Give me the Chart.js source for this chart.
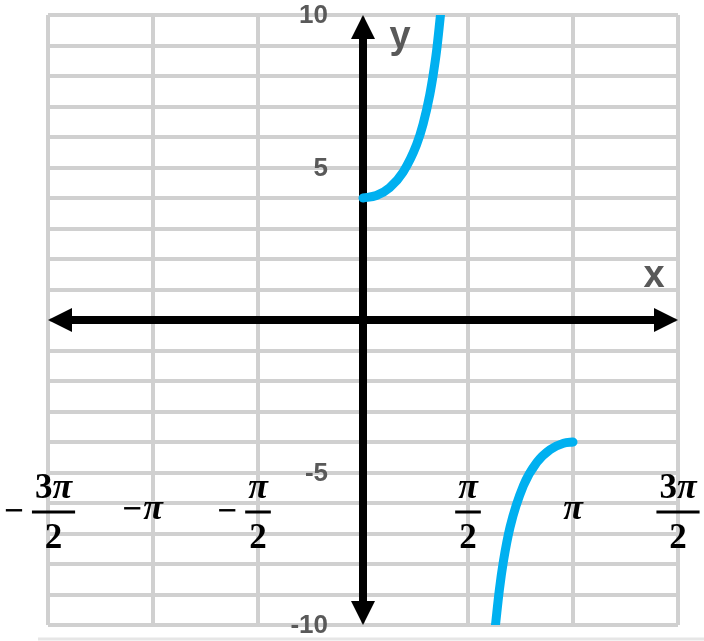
<!DOCTYPE html>
<html>
<head>
<meta charset="utf-8">
<script src="https://cdn.jsdelivr.net/npm/chart.js@4.4.0/dist/chart.umd.min.js"></script>
<style>
html, body { margin: 0; padding: 0; background: #fff; }
#wrap { width: 704px; height: 641px; }
</style>
</head>
<body>
<div id="wrap"><canvas id="secChart" width="704" height="641"></canvas></div>
<script>
// y = 4 sec x
var upperX = [0, 0.2, 0.4, 0.6, 0.8, 0.9, 1.0, 1.05, 1.1, 1.159];
var upperY = [4, 4.08, 4.34, 4.85, 5.74, 6.43, 7.40, 8.04, 8.81, 10];
var lowerX = [1.982, 2.04, 2.1, 2.2, 2.4, 2.6, 2.8, 3.0, 3.1416];
var lowerY = [-10, -8.85, -7.92, -6.79, -5.43, -4.67, -4.25, -4.04, -4];

var gridX = [-3 * Math.PI / 2, -Math.PI, -Math.PI / 2, 0, Math.PI / 2, Math.PI, 3 * Math.PI / 2];
var xTicks = [-3 * Math.PI / 2, -Math.PI, -Math.PI / 2, Math.PI / 2, Math.PI, 3 * Math.PI / 2];
var xTickLabels = ['−3π/2', '−π', '−π/2', 'π/2', 'π', '3π/2'];
var yTicks = [10, 5, -5, -10];
var yTickLabels = ['10', '5', '-5', '-10'];

function toPoints(xs, ys) {
    var pts = [];
    for (let i in xs) {
        pts.push({x: xs[i], y: ys[i]});
    }
    return pts;
}

var SERIF = '"Liberation Serif", "DejaVu Serif", serif';
var SANS = '"Liberation Sans", "DejaVu Sans", sans-serif';

function fontFor(ch) {
    return (ch === 'π' ? 'italic bold 36px ' : 'bold 35px ') + SERIF;
}

function runWidth(ctx, s) {
    var w = 0;
    for (let ch of s) {
        ctx.font = fontFor(ch);
        w += ctx.measureText(ch).width;
    }
    return w;
}

function drawRun(ctx, s, left, baseline) {
    var x = left;
    for (let ch of s) {
        ctx.font = fontFor(ch);
        ctx.fillText(ch, x, baseline);
        x += ctx.measureText(ch).width;
    }
}

function arrowHead(ctx, tipX, tipY, dx, dy) {
    // dx,dy: unit direction the arrow points to
    var len = 24, half = 12;
    var bx = tipX - dx * len, by = tipY - dy * len;
    ctx.beginPath();
    ctx.moveTo(tipX, tipY);
    ctx.lineTo(bx - dy * half, by + dx * half);
    ctx.lineTo(bx + dy * half, by - dx * half);
    ctx.closePath();
    ctx.fill();
}

var axesPlugin = {
    id: 'axesPlugin',
    beforeDatasetsDraw: function (chart) {
        var ctx = chart.ctx, a = chart.chartArea;
        var x0 = chart.scales.x.getPixelForValue(0);
        var y0 = chart.scales.y.getPixelForValue(0);
        ctx.save();
        ctx.strokeStyle = '#000';
        ctx.fillStyle = '#000';
        ctx.lineWidth = 8;
        ctx.beginPath();
        ctx.moveTo(a.left + 20, y0);
        ctx.lineTo(a.right - 20, y0);
        ctx.moveTo(x0, a.top + 20);
        ctx.lineTo(x0, a.bottom - 20);
        ctx.stroke();
        arrowHead(ctx, a.left, y0, -1, 0);
        arrowHead(ctx, a.right, y0, 1, 0);
        arrowHead(ctx, x0, a.top, 0, -1);
        arrowHead(ctx, x0, a.bottom, 0, 1);
        ctx.restore();
    },
    afterDraw: function (chart) {
        var ctx = chart.ctx, a = chart.chartArea;
        var xs = chart.scales.x, ys = chart.scales.y;
        var x0 = xs.getPixelForValue(0);
        ctx.save();

        // faint strip under the grid
        ctx.strokeStyle = '#e6e6e6';
        ctx.lineWidth = 3;
        ctx.beginPath();
        ctx.moveTo(a.left - 10, a.bottom + 14);
        ctx.lineTo(chart.width, a.bottom + 14);
        ctx.stroke();

        // y tick labels
        ctx.fillStyle = '#595959';
        ctx.font = 'bold 26px ' + SANS;
        ctx.textAlign = 'right';
        ctx.textBaseline = 'middle';
        for (let i in yTicks) {
            ctx.fillText(yTickLabels[i], x0 - 35, ys.getPixelForValue(yTicks[i]) + 1);
        }

        // axis names
        ctx.font = 'bold 38px ' + SANS;
        ctx.textAlign = 'center';
        ctx.textBaseline = 'alphabetic';
        ctx.fillText('y', x0 + 37, a.top + 33);
        ctx.fillText('x', a.right - 24, ys.getPixelForValue(0) - 33);

        // x tick labels
        ctx.fillStyle = '#000';
        ctx.textAlign = 'left';
        var barY = 512;
        for (let i in xTicks) {
            var lab = xTickLabels[i];
            var neg = lab.charAt(0) === '−';
            var body = neg ? lab.slice(1) : lab;
            var cx = xs.getPixelForValue(xTicks[i]);
            var parts = body.split('/');
            var bodyW, numW, denW;
            if (parts.length === 2) {
                numW = runWidth(ctx, parts[0]);
                denW = runWidth(ctx, parts[1]);
                bodyW = Math.max(numW, denW) + 6;
            } else {
                bodyW = runWidth(ctx, body);
            }
            ctx.font = fontFor('−');
            var minusW = ctx.measureText('−').width;
            var left = cx - bodyW / 2;
            var gap = parts.length === 2 ? 8 : 1;
            if (neg && left - gap - minusW < 4) {
                left = 4 + minusW + gap;
            }
            if (neg) {
                ctx.font = fontFor('−');
                ctx.fillText('−', left - gap - minusW, parts.length === 2 ? barY + 10 : barY + 8);
            }
            if (parts.length === 2) {
                drawRun(ctx, parts[0], left + (bodyW - numW) / 2, barY - 14);
                drawRun(ctx, parts[1], left + (bodyW - denW) / 2, barY + 36);
                ctx.fillRect(left, barY - 1.5, bodyW, 3);
            } else {
                drawRun(ctx, body, left, barY + 7);
            }
        }
        ctx.restore();
    }
};

var ctx = document.getElementById('secChart').getContext('2d');

var secChart = new Chart(ctx, {
    type: 'scatter',
    data: {
        datasets: [{
            data: toPoints(upperX, upperY)
        }, {
            data: toPoints(lowerX, lowerY)
        }]
    },
    options: {
        responsive: false,
        animation: false,
        devicePixelRatio: 1,
        layout: {
            padding: {left: 48, right: 26, top: 15, bottom: 16}
        },
        elements: {
            line: {
                borderColor: '#00b0f0',
                borderWidth: 9,
                borderCapStyle: 'round',
                cubicInterpolationMode: 'monotone'
            },
            point: { radius: 0, hoverRadius: 0 }
        },
        datasets: {
            scatter: { showLine: true, clip: 0 }
        },
        plugins: {
            legend: { display: false },
            tooltip: { enabled: false }
        },
        scales: {
            x: {
                type: 'linear',
                min: gridX[0],
                max: gridX[gridX.length - 1],
                afterBuildTicks: function (scale) {
                    scale.ticks = gridX.map(function (v) { return {value: v}; });
                },
                ticks: { display: false },
                border: { display: false },
                grid: { color: '#d0d0d0', lineWidth: 4, drawTicks: false }
            },
            y: {
                type: 'linear',
                min: -10,
                max: 10,
                ticks: { display: false, stepSize: 1 },
                border: { display: false },
                grid: { color: '#d0d0d0', lineWidth: 4, drawTicks: false }
            }
        }
    },
    plugins: [axesPlugin]
});
</script>
</body>
</html>
